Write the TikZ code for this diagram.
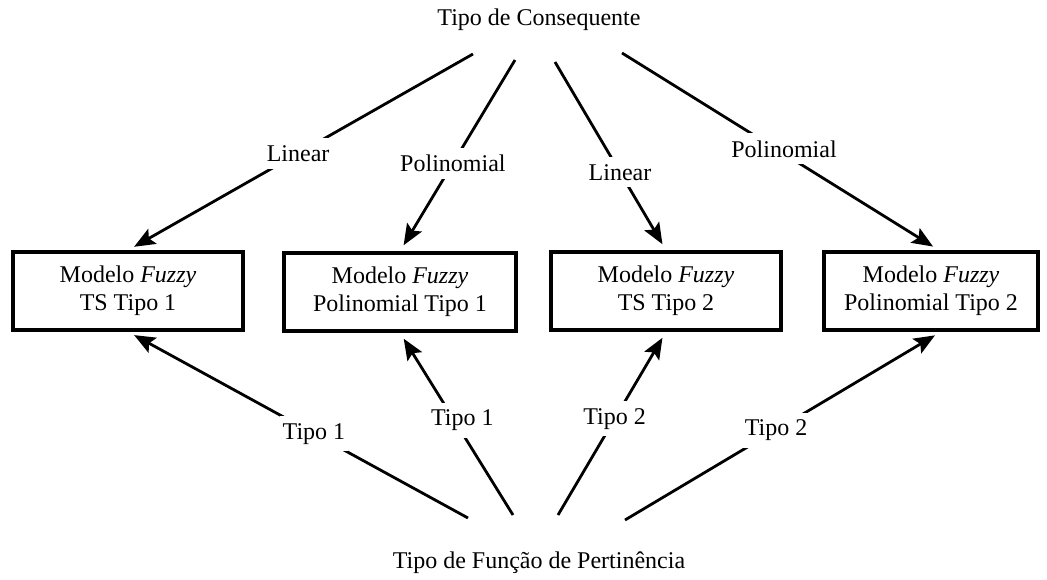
\documentclass[tikz,border=0pt]{standalone}
\usepackage{fontspec}
\setmainfont{Liberation Serif}
\usetikzlibrary{arrows.meta,calc}
\begin{document}
\begin{tikzpicture}[x=1pt,y=-1pt,
  box/.style={draw, line width=3.5pt, minimum width=230pt, minimum height=78pt, inner sep=0pt, align=center, font=\fontsize{24}{28}\selectfont},
  ttl/.style={font=\fontsize{24}{28}\selectfont},
  lbl/.style={fill=white, inner xsep=3pt, inner ysep=7pt, font=\fontsize{24}{28}\selectfont},
  arr/.style={line width=2.8pt, -{Stealth[length=21pt,width=17pt,inset=4pt]}, shorten >=7pt}
]
\useasboundingbox (0,0) rectangle (1047,579);
\node[ttl] (top) at (539,20) {Tipo de Consequente};
\node[ttl] (bot) at (539,563) {Tipo de Função de Pertinência};

\node[box] (b1) at (128,291) {Modelo \textit{Fuzzy}\\TS Tipo 1};
\node[box, minimum width=232pt] (b2) at (400,292) {Modelo \textit{Fuzzy}\\Polinomial Tipo 1};
\node[box] (b3) at (666,291) {Modelo \textit{Fuzzy}\\TS Tipo 2};
\node[box, minimum width=214pt] (b4) at (931,291) {Modelo \textit{Fuzzy}\\Polinomial Tipo 2};

\coordinate (s1) at (473,54);
\coordinate (s2) at (515,60);
\coordinate (s3) at (555,62);
\coordinate (s4) at (622,53);
\coordinate (s5) at (468,518);
\coordinate (s6) at (513,515);
\coordinate (s7) at (558,515);
\coordinate (s8) at (625,520);
\coordinate (t4) at ($(b4.north)+(8,0)$);
\coordinate (u4) at ($(b4.south)+(10,0)$);

\draw[arr] (s1) -- node[lbl, pos=0.507] (l1) {Linear} (b1.north);
\draw[arr] (s2) -- node[lbl, pos=0.54] (l2) {Polinomial} (b2.north);
\draw[arr] (s3) -- node[lbl, pos=0.586] (l3) {Linear} (b3.north);
\draw[arr] (s4) -- node[lbl, pos=0.511, yshift=5pt] (l4) {Polinomial} (t4);

\draw[arr] (s5) -- node[lbl, pos=0.453] (l5) {Tipo 1} (b1.south);
\draw[arr] (s6) -- node[lbl, pos=0.519, xshift=8pt] (l6) {Tipo 1} (b2.south);
\draw[arr] (s7) -- node[lbl, pos=0.524] (l7) {Tipo 2} (b3.south);
\draw[arr] (s8) -- node[lbl, pos=0.478] (l8) {Tipo 2} (u4);
\end{tikzpicture}
\end{document}
